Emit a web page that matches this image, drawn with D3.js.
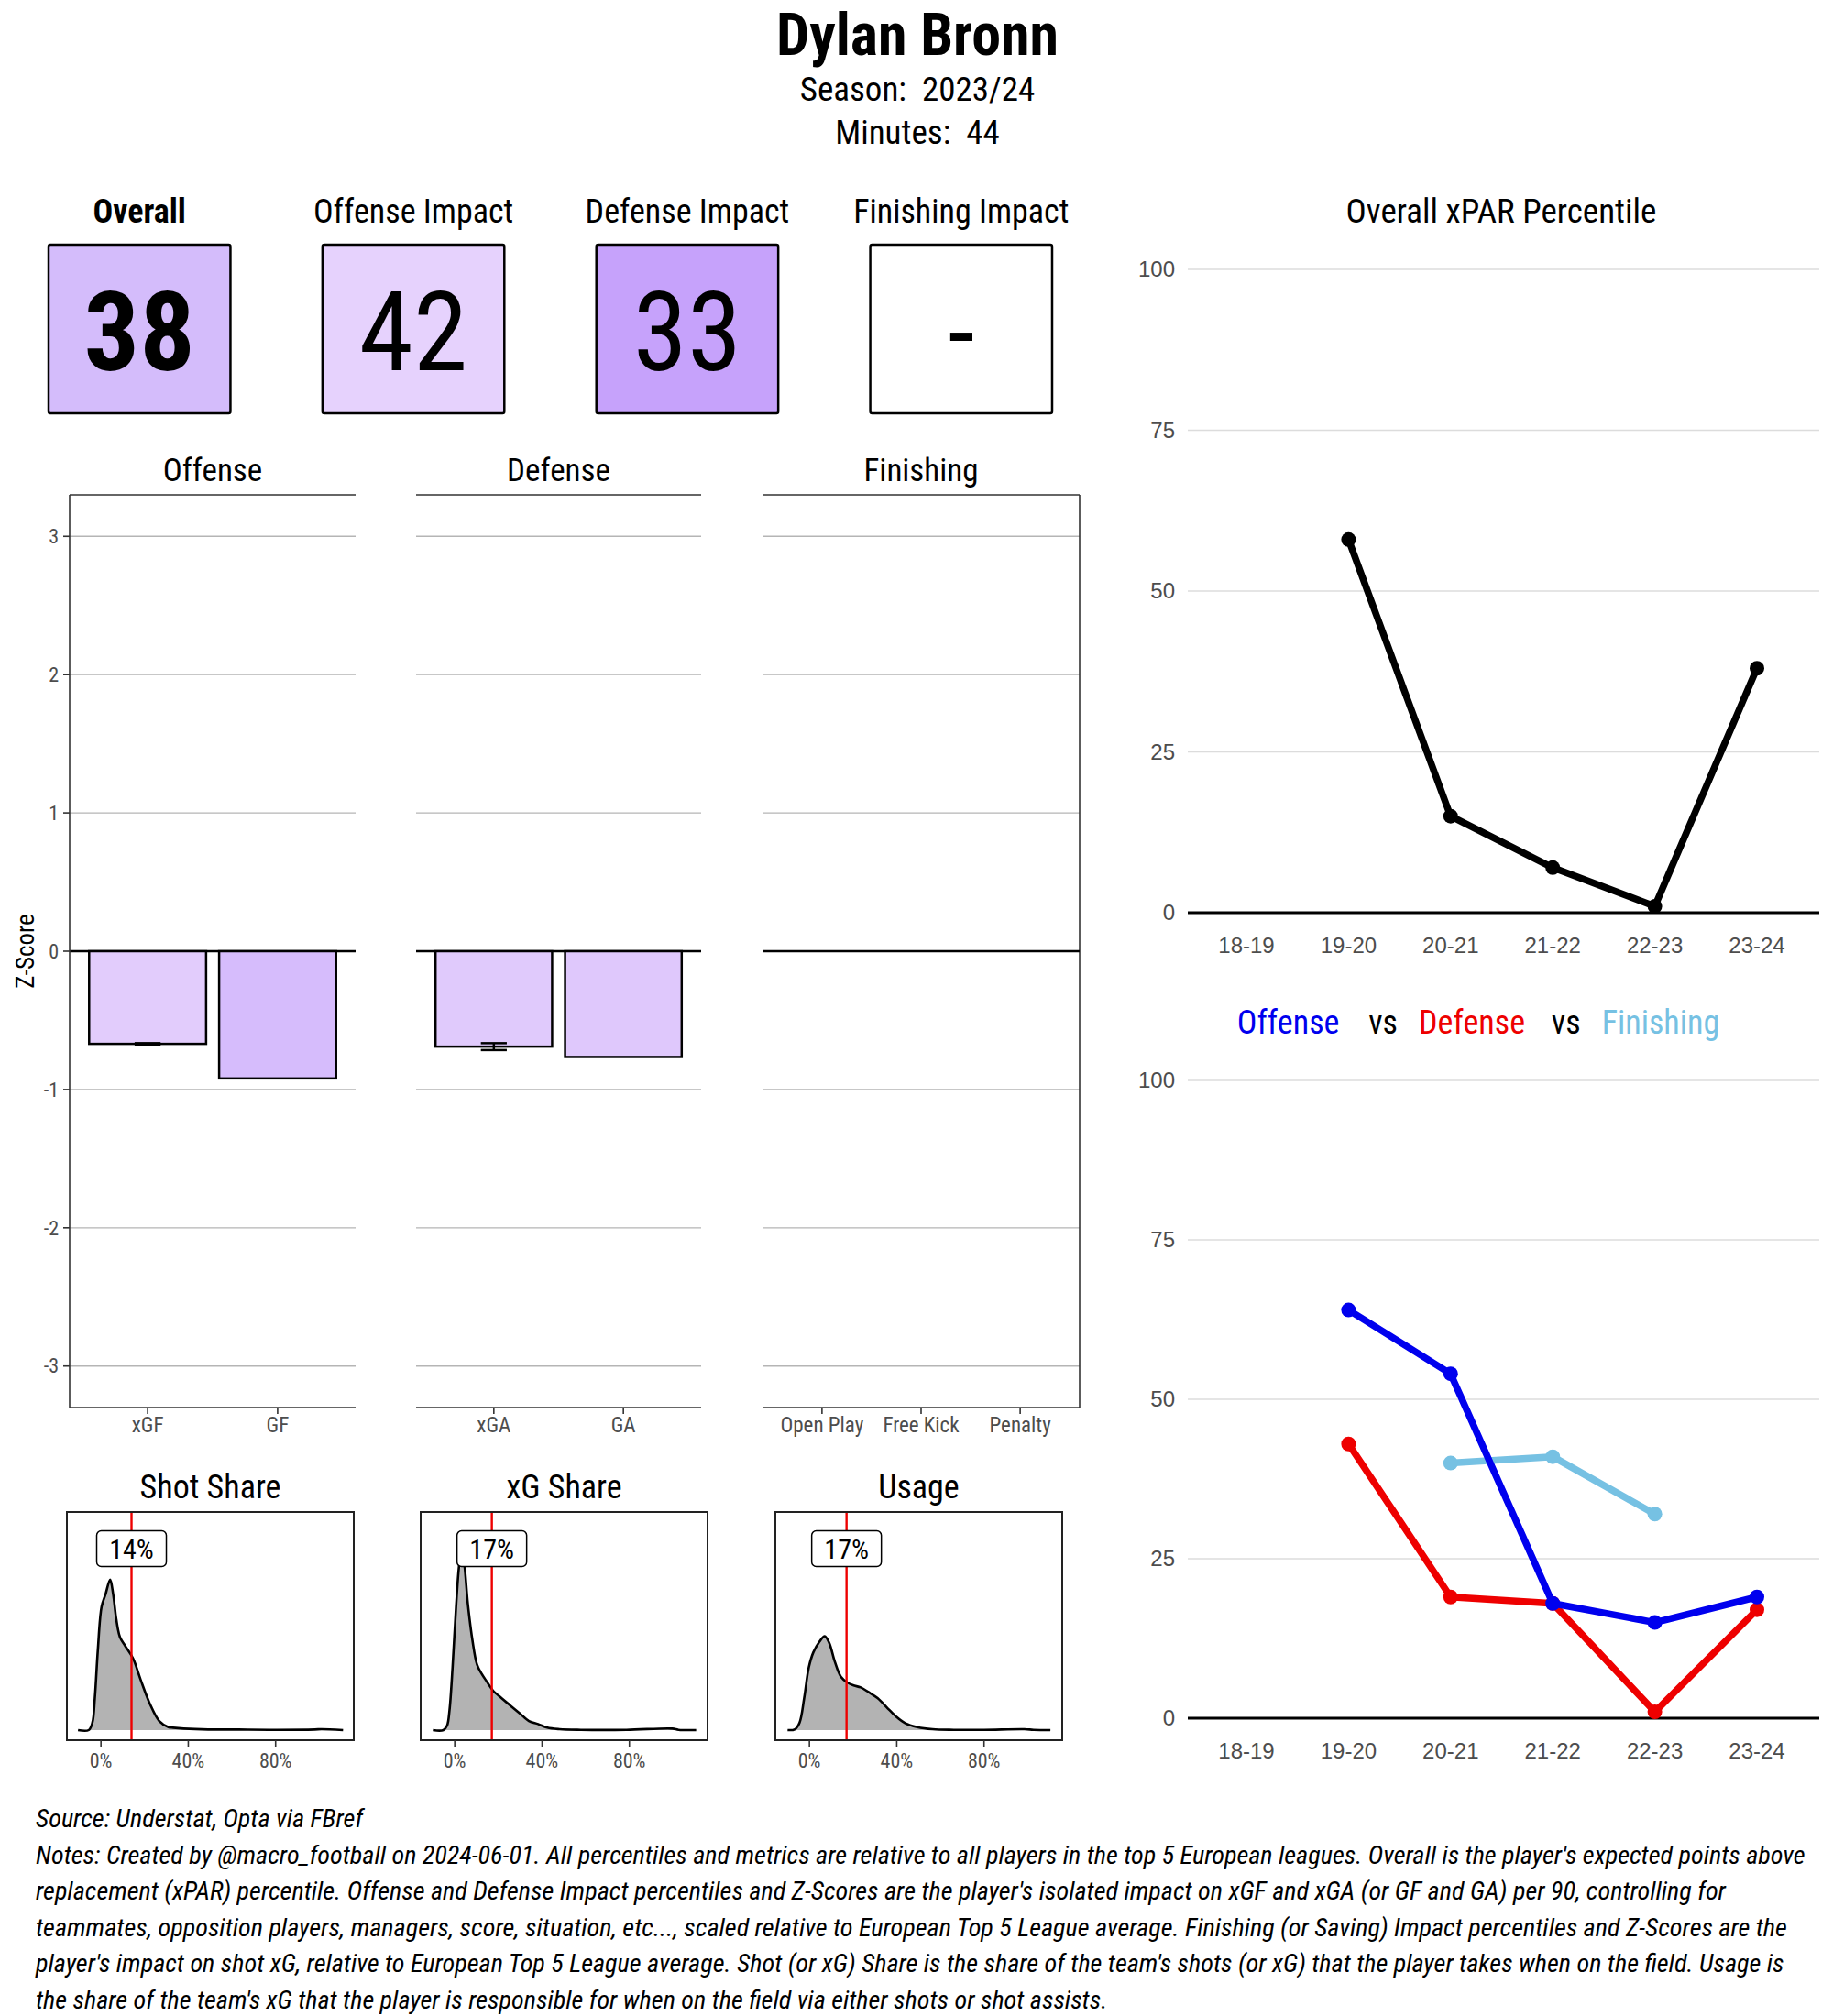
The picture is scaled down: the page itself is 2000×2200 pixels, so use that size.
<!DOCTYPE html>
<html>
<head>
<meta charset="utf-8">
<title>Dylan Bronn</title>
<script src="https://d3js.org/d3.v7.min.js"></script>
<style>
  body { margin: 0; background: #fff; }
  text { font-family: "Roboto Condensed", "Liberation Sans Narrow", "DejaVu Sans Condensed", sans-serif; }
  .plain { font-family: "Liberation Sans", Arial, sans-serif; }
</style>
</head>
<body>
<div id="chart"></div>
<script>
// ---- data ----
var playerName = "Dylan Bronn";
var seasonLabel = "2023/24";
var minutesPlayed = 44;

var tileLabels = ["Overall", "Offense Impact", "Defense Impact", "Finishing Impact"];
var tileValues = [38, 42, 33, null];

var offenseCats = ["xGF", "GF"];
var offenseZ = [-0.67, -0.92];
var offenseErr = [[-0.675, -0.665], null];

var defenseCats = ["xGA", "GA"];
var defenseZ = [-0.69, -0.765];
var defenseErr = [[-0.715, -0.665], null];

var finishingCats = ["Open Play", "Free Kick", "Penalty"];
var finishingZ = [0, 0, 0];

var zTicks = [-3, -2, -1, 0, 1, 2, 3];

var seasons = ["18-19", "19-20", "20-21", "21-22", "22-23", "23-24"];
var overallPct = [null, 58, 15, 7, 1, 38];
var offensePct = [null, 64, 54, 18, 15, 19];
var defensePct = [null, 43, 19, 18, 1, 17];
var finishingPct = [null, null, 40, 41, 32, null];
var pctTicks = [0, 25, 50, 75, 100];

// density curves: [share, density]
var shotShareDensity = [[-0.105,0],[-0.056,0],[-0.039,0.25],[-0.028,1.05],[-0.014,2.65],[0.003,4.05],[0.021,4.45],[0.042,4.93],[0.056,4.45],[0.07,3.65],[0.087,3.05],[0.112,2.75],[0.147,2.35],[0.182,1.65],[0.225,0.85],[0.267,0.3],[0.309,0.1],[0.33,0.08],[0.379,0.05],[0.491,0.02],[0.63,0.02],[0.77,0.01],[0.98,0.02],[1.01,0.03],[1.109,0]];
var xgShareDensity = [[-0.1,0],[-0.052,0],[-0.035,0.15],[-0.024,0.65],[-0.01,2.05],[0.007,4.15],[0.021,5.45],[0.032,5.85],[0.043,5.5],[0.06,4.15],[0.081,2.95],[0.102,2.15],[0.123,1.85],[0.151,1.55],[0.175,1.3],[0.214,1.05],[0.256,0.8],[0.298,0.55],[0.34,0.3],[0.382,0.2],[0.424,0.08],[0.48,0.03],[0.578,0.01],[0.787,0.01],[0.997,0.05],[1.025,0.01],[1.106,0]];
var usageDensity = [[-0.1,0],[-0.066,0.03],[-0.045,0.25],[-0.024,1.05],[-0.003,2.05],[0.018,2.55],[0.046,2.9],[0.07,3.08],[0.091,2.85],[0.116,2.25],[0.144,1.75],[0.172,1.57],[0.2,1.47],[0.235,1.4],[0.27,1.25],[0.312,1.05],[0.354,0.75],[0.396,0.45],[0.438,0.23],[0.494,0.1],[0.564,0.03],[0.662,0.01],[0.8,0.01],[0.985,0.03],[1.027,0.01],[1.104,0]];

var shareTitles = ["Shot Share", "xG Share", "Usage"];
var shareValues = [0.14, 0.17, 0.17];
var shareTicks = [0, 0.4, 0.8];

var footNotes = [
  "Source: Understat, Opta via FBref",
  "Notes: Created by @macro_football on 2024-06-01. All percentiles and metrics are relative to all players in the top 5 European leagues. Overall is the player's expected points above",
  "replacement (xPAR) percentile. Offense and Defense Impact percentiles and Z-Scores are the player's isolated impact on xGF and xGA (or GF and GA) per 90, controlling for",
  "teammates, opposition players, managers, score, situation, etc..., scaled relative to European Top 5 League average. Finishing (or Saving) Impact percentiles and Z-Scores are the",
  "player's impact on shot xG, relative to European Top 5 League average. Shot (or xG) Share is the share of the team's shots (or xG) that the player takes when on the field. Usage is",
  "the share of the team's xG that the player is responsible for when on the field via either shots or shot assists."
];

// ---- colours ----
var tileColors = ["#d4bcfb", "#e6d2fd", "#c6a2fb", "#ffffff"];
var offenseColors = ["#e2ccfc", "#d6bcfc"];
var defenseColors = ["#e0cafc", "#dfc8fc"];
var seriesColors = { Offense: "#0000ee", Defense: "#ee0000", Finishing: "#76c1e3" };

var svg = d3.select("#chart").append("svg")
  .attr("width", 2000)
  .attr("height", 2200);

svg.append("rect").attr("width", 2000).attr("height", 2200).attr("fill", "#fff");

// ---- header ----
svg.append("text").attr("x", 1001).attr("y", 60)
  .attr("text-anchor", "middle").style("font-size", "64px").style("font-weight", "bold")
  .text(playerName);
svg.append("text").attr("x", 1001).attr("y", 110)
  .attr("text-anchor", "middle").style("font-size", "37px")
  .attr("xml:space", "preserve")
  .text("Season:  " + seasonLabel);
svg.append("text").attr("x", 1001).attr("y", 157)
  .attr("text-anchor", "middle").style("font-size", "37px")
  .attr("xml:space", "preserve")
  .text("Minutes:  " + minutesPlayed);

// ---- percentile tiles ----
var tileX = d3.scaleBand().domain(tileLabels).range([53, 1148]).paddingInner(0.336).paddingOuter(0);
var tiles = svg.selectAll("g.tile")
  .data(tileLabels)
  .enter().append("g").attr("class", "tile");

tiles.append("text")
  .attr("x", function (d) { return tileX(d) + tileX.bandwidth() / 2; })
  .attr("y", 243)
  .attr("text-anchor", "middle")
  .style("font-size", "36px")
  .style("font-weight", function (d, i) { return i === 0 ? "bold" : "normal"; })
  .text(function (d) { return d; });

tiles.append("rect")
  .attr("x", function (d) { return tileX(d); })
  .attr("y", 267)
  .attr("width", tileX.bandwidth())
  .attr("height", 184)
  .attr("rx", 2)
  .attr("fill", function (d, i) { return tileColors[i]; })
  .attr("stroke", "#000")
  .attr("stroke-width", 2.5);

tiles.append("text")
  .attr("x", function (d) { return tileX(d) + tileX.bandwidth() / 2; })
  .attr("y", 404)
  .attr("text-anchor", "middle")
  .style("font-size", "120px")
  .style("font-weight", function (d, i) { return i === 0 ? "bold" : "normal"; })
  .text(function (d, i) { return tileValues[i] == null ? "-" : tileValues[i]; });

// ---- z-score facets ----
var yZ = d3.scaleLinear().domain([-3.3, 3.3]).range([1536, 540]);

function drawBarPanel(title, cats, vals, errs, colors, x0, x1, leftAxis, rightBorder) {
  var g = svg.append("g");
  var x = d3.scaleBand().domain(cats).range([x0, x1]).paddingInner(0.1).paddingOuter(0.15);

  g.selectAll("line.grid").data(zTicks.filter(function (t) { return t !== 0; }))
    .enter().append("line")
    .attr("x1", x0).attr("x2", x1)
    .attr("y1", function (d) { return yZ(d); }).attr("y2", function (d) { return yZ(d); })
    .attr("stroke", "#b5b5b5").attr("stroke-width", 1.3);

  // top border + bottom axis
  g.append("line").attr("x1", x0).attr("x2", x1).attr("y1", 540).attr("y2", 540)
    .attr("stroke", "#333").attr("stroke-width", 1.6);
  g.append("line").attr("x1", x0).attr("x2", x1).attr("y1", 1536).attr("y2", 1536)
    .attr("stroke", "#333").attr("stroke-width", 1.6);
  if (rightBorder) {
    g.append("line").attr("x1", x1).attr("x2", x1).attr("y1", 540).attr("y2", 1536)
      .attr("stroke", "#333").attr("stroke-width", 1.6);
  }

  g.append("line").attr("x1", x0).attr("x2", x1).attr("y1", yZ(0)).attr("y2", yZ(0))
    .attr("stroke", "#000").attr("stroke-width", 2.5);

  g.selectAll("rect.bar").data(cats).enter().append("rect")
    .attr("x", function (d) { return x(d); })
    .attr("width", x.bandwidth())
    .attr("y", function (d, i) { return yZ(Math.max(0, vals[i])); })
    .attr("height", function (d, i) { return Math.abs(yZ(vals[i]) - yZ(0)); })
    .attr("fill", function (d, i) { return colors ? colors[i] : "none"; })
    .attr("stroke", "#000")
    .attr("stroke-width", 2.5);

  cats.forEach(function (c, i) {
    var e = errs ? errs[i] : null;
    if (!e) return;
    var cx = x(c) + x.bandwidth() / 2, hw = x.step() * 0.1;
    var eg = g.append("g").attr("stroke", "#000").attr("stroke-width", 2.5);
    eg.append("line").attr("x1", cx - hw).attr("x2", cx + hw).attr("y1", yZ(e[0])).attr("y2", yZ(e[0]));
    eg.append("line").attr("x1", cx - hw).attr("x2", cx + hw).attr("y1", yZ(e[1])).attr("y2", yZ(e[1]));
    eg.append("line").attr("x1", cx).attr("x2", cx).attr("y1", yZ(e[0])).attr("y2", yZ(e[1]));
  });

  // x ticks + labels
  g.selectAll("line.xt").data(cats).enter().append("line")
    .attr("x1", function (d) { return x(d) + x.bandwidth() / 2; })
    .attr("x2", function (d) { return x(d) + x.bandwidth() / 2; })
    .attr("y1", 1536).attr("y2", 1543)
    .attr("stroke", "#333").attr("stroke-width", 1.6);
  g.selectAll("text.xl").data(cats).enter().append("text")
    .attr("x", function (d) { return x(d) + x.bandwidth() / 2; })
    .attr("y", 1563)
    .attr("text-anchor", "middle")
    .style("font-size", "23px").attr("fill", "#4d4d4d")
    .text(function (d) { return d; });

  g.append("text").attr("x", (x0 + x1) / 2).attr("y", 525)
    .attr("text-anchor", "middle").style("font-size", "35px")
    .text(title);

  if (leftAxis) {
    g.append("line").attr("x1", x0).attr("x2", x0).attr("y1", 540).attr("y2", 1536)
      .attr("stroke", "#333").attr("stroke-width", 1.6);
    g.selectAll("line.yt").data(zTicks).enter().append("line")
      .attr("x1", x0 - 7).attr("x2", x0)
      .attr("y1", function (d) { return yZ(d); }).attr("y2", function (d) { return yZ(d); })
      .attr("stroke", "#333").attr("stroke-width", 1.6);
    g.selectAll("text.yl").data(zTicks).enter().append("text")
      .attr("x", x0 - 12)
      .attr("y", function (d) { return yZ(d); })
      .attr("dy", "0.35em")
      .attr("text-anchor", "end")
      .style("font-size", "22px").attr("fill", "#4d4d4d")
      .text(function (d) { return d; });
    g.append("text")
      .attr("transform", "translate(37," + yZ(0) + ") rotate(-90)")
      .attr("text-anchor", "middle")
      .style("font-size", "27px")
      .text("Z-Score");
  }
}

drawBarPanel("Offense", offenseCats, offenseZ, offenseErr, offenseColors, 76, 388, true, false);
drawBarPanel("Defense", defenseCats, defenseZ, defenseErr, defenseColors, 454, 765, false, false);
drawBarPanel("Finishing", finishingCats, finishingZ, null, null, 832, 1178, false, true);

// ---- share densities ----
var densities = [shotShareDensity, xgShareDensity, usageDensity];
var sharePanels = [[73, 386], [459, 772], [846, 1159]];
var yD = d3.scaleLinear().domain([-0.33, 7.15]).range([1899, 1650]);

shareTitles.forEach(function (title, i) {
  var x0 = sharePanels[i][0], x1 = sharePanels[i][1];
  var x = d3.scaleLinear().domain([-0.156, 1.158]).range([x0, x1]);
  var g = svg.append("g");
  var dens = densities[i];

  g.append("path").datum(dens)
    .attr("d", d3.area().curve(d3.curveCatmullRom)
      .x(function (d) { return x(d[0]); })
      .y0(yD(0))
      .y1(function (d) { return yD(d[1]); }))
    .attr("fill", "#b3b3b3");
  g.append("path").datum(dens)
    .attr("d", d3.line().curve(d3.curveCatmullRom)
      .x(function (d) { return x(d[0]); })
      .y(function (d) { return yD(d[1]); }))
    .attr("fill", "none").attr("stroke", "#000").attr("stroke-width", 2.6);

  g.append("line")
    .attr("x1", x(shareValues[i])).attr("x2", x(shareValues[i]))
    .attr("y1", 1650).attr("y2", 1899)
    .attr("stroke", "#ee0000").attr("stroke-width", 2.4);

  g.append("rect").attr("x", x0).attr("y", 1650).attr("width", x1 - x0).attr("height", 249)
    .attr("fill", "none").attr("stroke", "#222").attr("stroke-width", 2);

  g.append("rect")
    .attr("x", x(shareValues[i]) - 38).attr("y", yD(5.95) - 19.5)
    .attr("width", 76).attr("height", 39).attr("rx", 5)
    .attr("fill", "#fff").attr("stroke", "#000").attr("stroke-width", 1.5);
  g.append("text")
    .attr("x", x(shareValues[i])).attr("y", yD(5.95))
    .attr("dy", "0.36em").attr("text-anchor", "middle")
    .style("font-size", "30px")
    .text(d3.format(".0%")(shareValues[i]));

  g.selectAll("line.xt").data(shareTicks).enter().append("line")
    .attr("x1", function (d) { return x(d); }).attr("x2", function (d) { return x(d); })
    .attr("y1", 1899).attr("y2", 1906)
    .attr("stroke", "#333").attr("stroke-width", 1.6);
  g.selectAll("text.xl").data(shareTicks).enter().append("text")
    .attr("x", function (d) { return x(d); }).attr("y", 1929)
    .attr("text-anchor", "middle")
    .style("font-size", "22px").attr("fill", "#4d4d4d")
    .text(function (d) { return d3.format(".0%")(d); });

  g.append("text").attr("x", (x0 + x1) / 2).attr("y", 1635)
    .attr("text-anchor", "middle").style("font-size", "36px")
    .text(title);
});

// ---- percentile line charts ----
var xS = d3.scalePoint().domain(seasons).range([1360, 1917]);

function drawPctChart(top, bottom, series) {
  var y = d3.scaleLinear().domain([0, 100]).range([bottom, top]);
  var g = svg.append("g");
  g.selectAll("line.grid").data(pctTicks.filter(function (t) { return t > 0; }))
    .enter().append("line")
    .attr("x1", 1296).attr("x2", 1985)
    .attr("y1", function (d) { return y(d); }).attr("y2", function (d) { return y(d); })
    .attr("stroke", "#dcdcdc").attr("stroke-width", 1.5);
  g.append("line").attr("x1", 1296).attr("x2", 1985).attr("y1", y(0)).attr("y2", y(0))
    .attr("stroke", "#000").attr("stroke-width", 3);

  g.selectAll("text.yl").data(pctTicks).enter().append("text")
    .attr("class", "plain")
    .attr("x", 1282).attr("y", function (d) { return y(d); })
    .attr("dy", "0.35em").attr("text-anchor", "end")
    .style("font-size", "24px").attr("fill", "#4d4d4d")
    .text(function (d) { return d; });
  g.selectAll("text.xl").data(seasons).enter().append("text")
    .attr("class", "plain")
    .attr("x", function (d) { return xS(d); }).attr("y", y(0) + 44)
    .attr("text-anchor", "middle")
    .style("font-size", "24px").attr("fill", "#4d4d4d")
    .text(function (d) { return d; });

  series.forEach(function (s) {
    var pts = seasons.map(function (d, i) { return { season: d, v: s.values[i] }; });
    g.append("path").datum(pts)
      .attr("d", d3.line().defined(function (d) { return d.v != null; })
        .x(function (d) { return xS(d.season); })
        .y(function (d) { return y(d.v); }))
      .attr("fill", "none").attr("stroke", s.color).attr("stroke-width", 7.5)
      .attr("stroke-linejoin", "round");
    g.selectAll(null).data(pts.filter(function (d) { return d.v != null; }))
      .enter().append("circle")
      .attr("cx", function (d) { return xS(d.season); })
      .attr("cy", function (d) { return y(d.v); })
      .attr("r", 8)
      .attr("fill", s.color);
  });
}

svg.append("text").attr("x", 1638).attr("y", 243)
  .attr("text-anchor", "middle").style("font-size", "37px")
  .text("Overall xPAR Percentile");
drawPctChart(294, 996, [{ values: overallPct, color: "#000" }]);

var vsTitle = svg.append("text").attr("x", 1613).attr("y", 1128)
  .attr("text-anchor", "middle").style("font-size", "36px");
vsTitle.append("tspan").attr("fill", seriesColors.Offense).text("Offense");
vsTitle.append("tspan").attr("dx", 32).attr("fill", "#000").text("vs");
vsTitle.append("tspan").attr("dx", 23).attr("fill", seriesColors.Defense).text("Defense");
vsTitle.append("tspan").attr("dx", 29).attr("fill", "#000").text("vs");
vsTitle.append("tspan").attr("dx", 23).attr("fill", seriesColors.Finishing).text("Finishing");

drawPctChart(1179, 1875, [
  { values: finishingPct, color: seriesColors.Finishing },
  { values: defensePct, color: seriesColors.Defense },
  { values: offensePct, color: seriesColors.Offense }
]);

// ---- footer ----
svg.selectAll("text.note").data(footNotes).enter().append("text")
  .attr("x", 39)
  .attr("y", function (d, i) { return i === 0 ? 1994 : 2034 + (i - 1) * 39.4; })
  .style("font-size", "28.2px")
  .style("font-style", "italic")
  .text(function (d) { return d; });
</script>
</body>
</html>
